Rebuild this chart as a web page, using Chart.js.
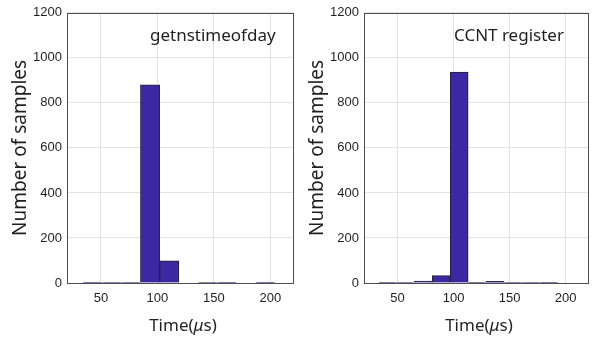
<!DOCTYPE html>
<html>
<head>
<meta charset="utf-8">
<script src="https://cdn.jsdelivr.net/npm/chart.js@4"></script>
<style>
  html, body { margin: 0; padding: 0; background: #fff; }
  .wrap { position: absolute; top: 0; width: 297px; height: 342px; }
</style>
</head>
<body>
<div class="wrap" style="left:0"><canvas id="left"></canvas></div>
<div class="wrap" style="left:297px"><canvas id="right"></canvas></div>
<script>
// histogram bin centres (us) and counts
const timeA = [42.5, 59.5, 76.5, 93.5, 110.5, 127.5, 144.5, 161.5, 178.5, 195.5]
const countsA = [1, 2, 2, 880, 98, 0, 2, 1, 0, 3]
const timeB = [41, 57, 73, 89, 105, 121, 137, 153, 169, 185]
const countsB = [1, 2, 9, 33, 937, 3, 7, 2, 2, 1]
const xTicks = [50, 100, 150, 200]
const yTicks = [0, 200, 400, 600, 800, 1000, 1200]

const barColor = '#3b28a2'
const textColor = '#1f1f1f'
const titleFont = '"Noto Sans", "Open Sans", sans-serif'

// frame, axis titles and the label inside the plot
const decor = {
    id: 'decor',
    afterDraw(chart, args, opts) {
        const ctx = chart.ctx
        const a = chart.chartArea
        ctx.save()
        ctx.strokeStyle = '#4d4d4d'
        ctx.lineWidth = 1
        ctx.strokeRect(Math.round(a.left) + 0.5, Math.round(a.top) + 0.5,
            Math.round(a.right - a.left), Math.round(a.bottom - a.top))
        ctx.fillStyle = textColor
        ctx.textBaseline = 'middle'
        // label
        ctx.font = '17px ' + titleFont
        ctx.textAlign = 'left'
        ctx.fillText(opts.label, a.left + opts.labelX, a.top + 23)
        // y title
        ctx.save()
        ctx.translate(21, (a.top + a.bottom) / 2)
        ctx.rotate(-Math.PI / 2)
        ctx.textAlign = 'center'
        ctx.font = '19px ' + titleFont
        ctx.fillText('Number of samples', 0, 0)
        ctx.restore()
        // x title with italic mu
        const cx = (a.left + a.right) / 2 + 3
        const y = 326
        const size = '17px '
        ctx.font = size + titleFont
        const p1 = 'Time(', p3 = 's)'
        const w1 = ctx.measureText(p1).width
        const w3 = ctx.measureText(p3).width
        ctx.font = 'italic ' + size + titleFont
        const w2 = ctx.measureText('\u03bc').width
        let x = cx - (w1 + w2 + w3) / 2
        ctx.textAlign = 'left'
        ctx.font = size + titleFont
        ctx.fillText(p1, x, y)
        ctx.font = 'italic ' + size + titleFont
        ctx.fillText('\u03bc', x + w1, y)
        ctx.font = size + titleFont
        ctx.fillText(p3, x + w1 + w2, y)
        ctx.restore()
    }
}

function histChart(canvasID, times, counts, label, labelX, padRight) {
    const data = times.map((t, i) => ({ x: t, y: counts[i] }))
    const tickFont = { family: '"Liberation Sans", Arial', size: 13 }
    const config = {
        type: 'bar',
        data: {
            datasets: [{
                data: data,
                backgroundColor: barColor,
                borderColor: '#222233',
                borderWidth: 1,
                barPercentage: 1,
                categoryPercentage: 1,
            }]
        },
        options: {
            responsive: true,
            maintainAspectRatio: false,
            animation: false,
            layout: { padding: { top: 10, right: padRight, left: 0, bottom: 0 } },
            plugins: {
                legend: { display: false },
                tooltip: { enabled: false },
                decor: { label: label, labelX: labelX }
            },
            scales: {
                x: {
                    type: 'linear',
                    offset: false,
                    min: 20,
                    max: 220,
                    afterBuildTicks: s => { s.ticks = xTicks.map(v => ({ value: v })) },
                    afterFit: s => { s.height = 59 },
                    grid: { color: '#e3e3e3', drawTicks: false, offset: false },
                    border: { display: false },
                    ticks: { color: textColor, font: tickFont, padding: 8, maxRotation: 0, callback: v => String(v) }
                },
                y: {
                    min: 0,
                    max: 1200,
                    afterBuildTicks: s => { s.ticks = yTicks.map(v => ({ value: v })) },
                    afterFit: s => { s.width = 67 },
                    grid: { color: '#e3e3e3', drawTicks: false },
                    border: { display: false },
                    ticks: { color: textColor, font: tickFont, padding: 5, callback: v => String(v) }
                }
            }
        },
        plugins: [decor]
    }
    return new Chart(document.getElementById(canvasID), config)
}

histChart('left', timeA, countsA, 'getnstimeofday', 83, 4)
histChart('right', timeB, countsB, 'CCNT register', 90, 6)
</script>
</body>
</html>
